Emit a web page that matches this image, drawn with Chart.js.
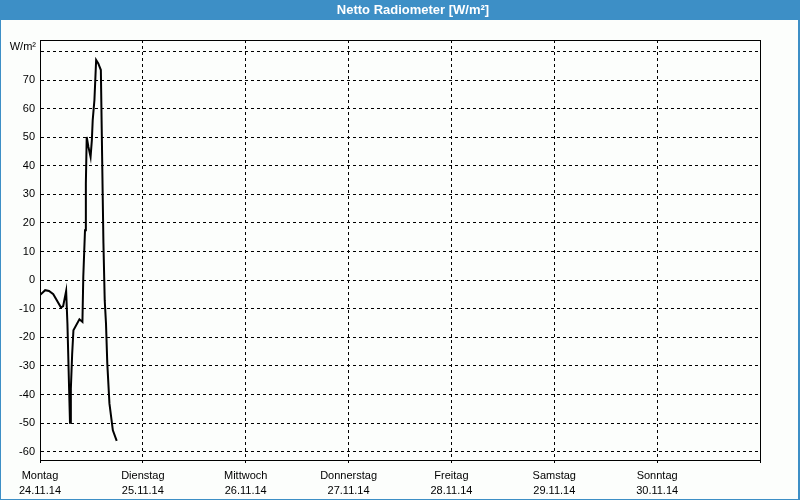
<!DOCTYPE html>
<html>
<head>
<meta charset="utf-8">
<script src="https://cdn.jsdelivr.net/npm/chart.js@4"></script>
<style>
  html, body { margin: 0; padding: 0; background: #fcfefc; }
  #wrap { width: 800px; height: 500px; position: relative; }
  canvas { display: block; }
</style>
</head>
<body>
<div id="wrap"><canvas id="c" width="800" height="500"></canvas></div>
<script>
// ---- data ----
const chartTitle = 'Netto Radiometer [W/m²]';
const unitLabel = 'W/m²';
const dayNames = ['Montag', 'Dienstag', 'Mittwoch', 'Donnerstag', 'Freitag', 'Samstag', 'Sonntag'];
const dayDates = ['24.11.14', '25.11.14', '26.11.14', '27.11.14', '28.11.14', '29.11.14', '30.11.14'];
const yTicks = [-60, -50, -40, -30, -20, -10, 0, 10, 20, 30, 40, 50, 60, 70, 80];
// hours since Monday 00:00
const hours = [0, 1.2, 2.1, 3.1, 4.9, 5.4, 6.1, 6.4, 6.6, 6.8, 7.0, 7.2, 7.5, 7.8, 9.2, 9.9, 10.1, 10.5, 10.7, 10.9,
  11.3, 11.8, 12.1, 12.3, 12.7, 13.1, 13.6, 14.2, 14.4, 14.6, 14.8, 15.1, 15.4, 15.7, 16.2, 17.0, 17.9];
const values = [-5.2, -3.5, -3.8, -4.9, -9.6, -9.1, -3.8, -15.2, -26.8, -38.5, -49.9, -38, -26, -17.5, -13.7, -14.6, 1.2, 17.5, 33.8, 50.1,
  46.6, 43.1, 49, 56, 63, 77, 75.8, 73.5, 53.1, 32.6, 13, -7, -15.2, -29.1, -43.1, -52.5, -56.2];

const points = hours.map((h, i) => ({ x: h, y: values[i] }));

Chart.defaults.font.family = "'Liberation Sans', Arial, sans-serif";
Chart.defaults.font.size = 11;
Chart.defaults.color = '#000';

const framePlugin = {
  id: 'frame',
  beforeDraw(chart) {
    const ctx = chart.ctx;
    ctx.save();
    ctx.fillStyle = '#fcfefc';
    ctx.fillRect(0, 0, 800, 500);
    ctx.fillStyle = '#3d8fc6';
    ctx.fillRect(0, 0, 800, 20);
    ctx.fillRect(0, 0, 1, 500);
    ctx.fillRect(798, 0, 2, 500);
    ctx.fillRect(0, 499, 800, 1);
    ctx.fillStyle = '#ffffff';
    ctx.font = "bold 13px 'Liberation Sans', Arial, sans-serif";
    ctx.textAlign = 'center';
    ctx.textBaseline = 'middle';
    ctx.fillText(chartTitle, 413, 10.5);
    ctx.restore();
  },
  afterDraw(chart) {
    const ctx = chart.ctx;
    const a = chart.chartArea;
    ctx.save();
    ctx.strokeStyle = '#000';
    ctx.lineWidth = 1;
    ctx.strokeRect(Math.round(a.left) + 0.5, Math.round(a.top) + 0.5, Math.round(a.right - a.left), Math.round(a.bottom - a.top));
    ctx.fillStyle = '#000';
    ctx.font = "11px 'Liberation Sans', Arial, sans-serif";
    ctx.textAlign = 'right';
    ctx.textBaseline = 'middle';
    ctx.fillText(unitLabel, a.left - 4, a.top + 7);
    ctx.restore();
  }
};

new Chart(document.getElementById('c'), {
  type: 'line',
  data: {
    datasets: [{
      data: points,
      borderColor: '#000',
      borderWidth: 2,
      pointRadius: 0,
      tension: 0,
      fill: false
    }]
  },
  options: {
    responsive: false,
    animation: false,
    layout: { padding: { left: 0, top: 40, right: 40, bottom: 0 } },
    plugins: { legend: { display: false }, tooltip: { enabled: false }, title: { display: false } },
    scales: {
      x: {
        type: 'linear',
        min: 0,
        max: 168,
        afterBuildTicks(scale) {
          scale.ticks = [0, 24, 48, 72, 96, 120, 144, 168].map(v => ({ value: v }));
        },
        afterFit(scale) { scale.height = 40; },
        grid: { color: '#000', lineWidth: 1, tickLength: 3, drawTicks: true },
        border: { display: true, color: '#000', width: 1, dash: [3, 3] },
        ticks: {
          autoSkip: false,
          maxRotation: 0,
          padding: 5,
          font: { size: 11, lineHeight: '15px' },
          callback(value) {
            const i = Math.round(value / 24);
            if (i >= dayNames.length) return '';
            return [dayNames[i], dayDates[i]];
          }
        }
      },
      y: {
        type: 'linear',
        min: -62.9,
        max: 84,
        afterBuildTicks(scale) {
          scale.ticks = yTicks.map(v => ({ value: v }));
        },
        afterFit(scale) { scale.width = 40; },
        grid: { color: '#000', lineWidth: 1, drawTicks: false },
        border: { display: true, color: '#000', width: 1, dash: [3, 3] },
        ticks: {
          autoSkip: false,
          padding: 5,
          callback(value) { return value === 80 ? '' : String(value); }
        }
      }
    }
  },
  plugins: [framePlugin]
});
</script>
</body>
</html>
